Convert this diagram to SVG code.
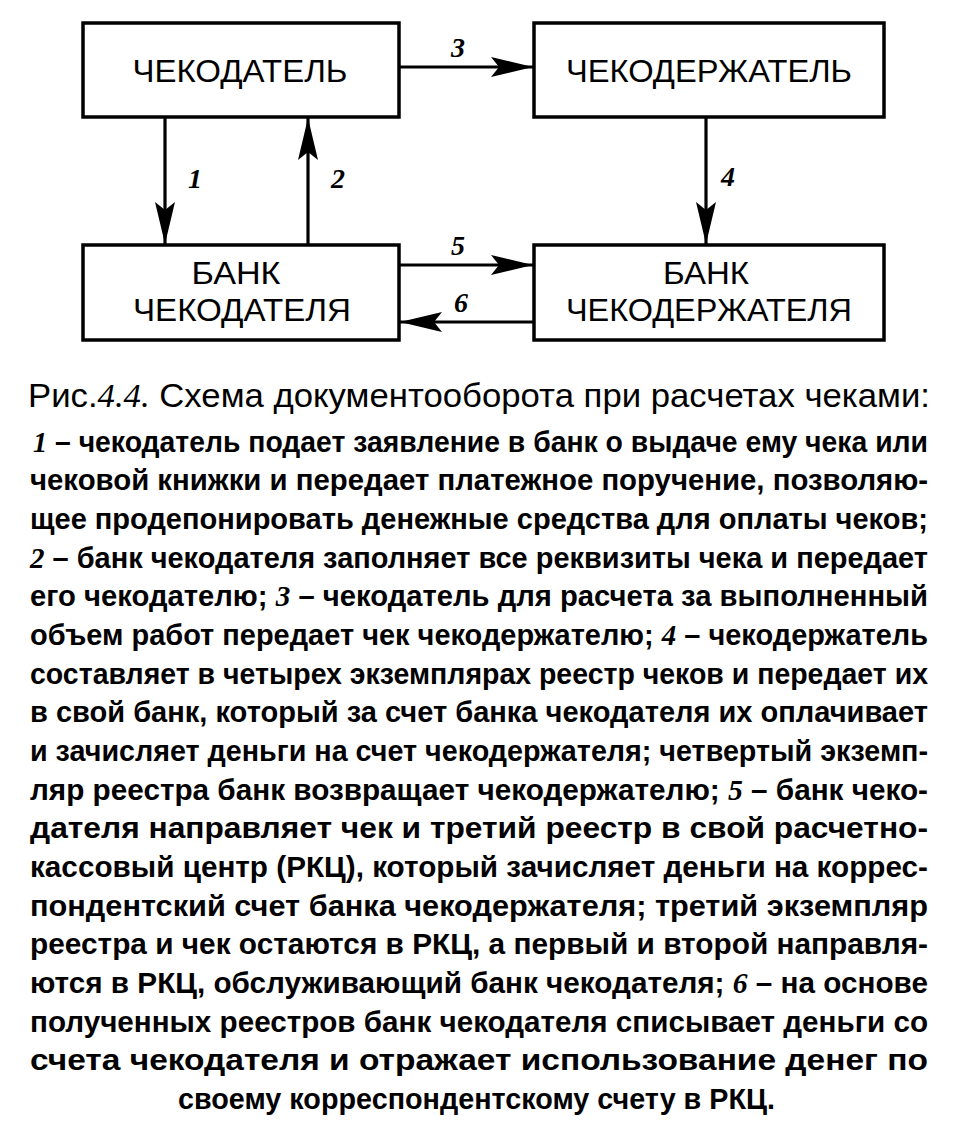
<svg xmlns="http://www.w3.org/2000/svg" width="960" height="1136" viewBox="0 0 960 1136">
<style>
.box{fill:#fff;stroke:#000;stroke-width:3.5}
.lbl{font-family:"Liberation Sans",Arial,sans-serif;font-size:32px;fill:#000;text-anchor:middle}
.num{font-family:"Liberation Serif","Times New Roman",serif;font-style:italic;font-weight:bold;font-size:28px;fill:#000;text-anchor:middle}
.conn{stroke:#000;stroke-width:3.2;fill:none;marker-end:url(#ah)}
.cap{font-family:"Liberation Sans",Arial,sans-serif;font-size:33px;fill:#000}
.body{font-family:"Liberation Sans",Arial,sans-serif;font-weight:bold;font-size:30px;fill:#000}
.it{font-family:"Liberation Serif","Times New Roman",serif;font-style:italic}
</style>
<defs>
<marker id="ah" markerUnits="userSpaceOnUse" markerWidth="46" markerHeight="24" viewBox="-44 -12 46 24" refX="0" refY="0" orient="auto">
<path d="M0,0 L-42,-10 L-34,0 L-42,10 Z" fill="#000"/>
</marker>
</defs>
<rect width="960" height="1136" fill="#fff"/>

<g id="connectors">
<line class="conn" x1="399" y1="67" x2="533" y2="67"/>
<line class="conn" x1="165" y1="117" x2="165" y2="244"/>
<line class="conn" x1="308" y1="245" x2="308" y2="118"/>
<line class="conn" x1="706" y1="117" x2="706" y2="244"/>
<line class="conn" x1="399" y1="265" x2="533" y2="265"/>
<line class="conn" x1="534" y1="322" x2="400" y2="322"/>
<text class="num" x="458" y="57">3</text>
<text class="num" x="195" y="188">1</text>
<text class="num" x="338" y="188">2</text>
<text class="num" x="728" y="186">4</text>
<text class="num" x="458" y="255">5</text>
<text class="num" x="461" y="312">6</text>
</g>

<g id="node-chekodatel">
<rect class="box" x="83" y="23" width="316" height="94"/>
<text class="lbl" x="240" y="82" textLength="215" lengthAdjust="spacingAndGlyphs">ЧЕКОДАТЕЛЬ</text>
</g>
<g id="node-chekoderzhatel">
<rect class="box" x="534" y="23" width="350" height="94"/>
<text class="lbl" x="709" y="82" textLength="286" lengthAdjust="spacingAndGlyphs">ЧЕКОДЕРЖАТЕЛЬ</text>
</g>
<g id="node-bank-chekodatelya">
<rect class="box" x="83" y="245" width="316" height="95"/>
<text class="lbl" x="236" y="284" textLength="89" lengthAdjust="spacingAndGlyphs">БАНК</text>
<text class="lbl" x="242" y="321" textLength="218" lengthAdjust="spacingAndGlyphs">ЧЕКОДАТЕЛЯ</text>
</g>
<g id="node-bank-chekoderzhatelya">
<rect class="box" x="534" y="245" width="350" height="95"/>
<text class="lbl" x="706" y="284" textLength="86" lengthAdjust="spacingAndGlyphs">БАНК</text>
<text class="lbl" x="709" y="321" textLength="286" lengthAdjust="spacingAndGlyphs">ЧЕКОДЕРЖАТЕЛЯ</text>
</g>

<g id="caption">
<text class="cap" x="28" y="407" textLength="902" lengthAdjust="spacingAndGlyphs">Рис.<tspan class="it">4.4.</tspan> Схема документооборота при расчетах чеками:</text>
<text class="body" x="33" y="452" textLength="895" lengthAdjust="spacingAndGlyphs"><tspan class="it">1</tspan> – чекодатель подает заявление в банк о выдаче ему чека или</text>
<text class="body" x="30" y="490" textLength="898" lengthAdjust="spacingAndGlyphs">чековой книжки и передает платежное поручение, позволяю-</text>
<text class="body" x="30" y="529" textLength="898" lengthAdjust="spacingAndGlyphs">щее продепонировать денежные средства для оплаты чеков;</text>
<text class="body" x="30" y="568" textLength="898" lengthAdjust="spacingAndGlyphs"><tspan class="it">2</tspan> – банк чекодателя заполняет все реквизиты чека и передает</text>
<text class="body" x="30" y="606" textLength="898" lengthAdjust="spacingAndGlyphs">его чекодателю; <tspan class="it">3</tspan> – чекодатель для расчета за выполненный</text>
<text class="body" x="30" y="645" textLength="898" lengthAdjust="spacingAndGlyphs">объем работ передает чек чекодержателю; <tspan class="it">4</tspan> – чекодержатель</text>
<text class="body" x="30" y="684" textLength="898" lengthAdjust="spacingAndGlyphs">составляет в четырех экземплярах реестр чеков и передает их</text>
<text class="body" x="30" y="722" textLength="898" lengthAdjust="spacingAndGlyphs">в свой банк, который за счет банка чекодателя их оплачивает</text>
<text class="body" x="30" y="761" textLength="898" lengthAdjust="spacingAndGlyphs">и зачисляет деньги на счет чекодержателя; четвертый экземп-</text>
<text class="body" x="30" y="800" textLength="898" lengthAdjust="spacingAndGlyphs">ляр реестра банк возвращает чекодержателю; <tspan class="it">5</tspan> – банк чеко-</text>
<text class="body" x="30" y="838" textLength="898" lengthAdjust="spacingAndGlyphs">дателя направляет чек и третий реестр в свой расчетно-</text>
<text class="body" x="30" y="877" textLength="898" lengthAdjust="spacingAndGlyphs">кассовый центр (РКЦ), который зачисляет деньги на коррес-</text>
<text class="body" x="30" y="916" textLength="898" lengthAdjust="spacingAndGlyphs">пондентский счет банка чекодержателя; третий экземпляр</text>
<text class="body" x="30" y="954" textLength="898" lengthAdjust="spacingAndGlyphs">реестра и чек остаются в РКЦ, а первый и второй направля-</text>
<text class="body" x="30" y="993" textLength="898" lengthAdjust="spacingAndGlyphs">ются в РКЦ, обслуживающий банк чекодателя; <tspan class="it">6</tspan> – на основе</text>
<text class="body" x="30" y="1032" textLength="898" lengthAdjust="spacingAndGlyphs">полученных реестров банк чекодателя списывает деньги со</text>
<text class="body" x="30" y="1070" textLength="898" lengthAdjust="spacingAndGlyphs">счета чекодателя и отражает использование денег по</text>
<text class="body" x="178" y="1109" textLength="597" lengthAdjust="spacingAndGlyphs">своему корреспондентскому счету в РКЦ.</text>
</g>
</svg>
